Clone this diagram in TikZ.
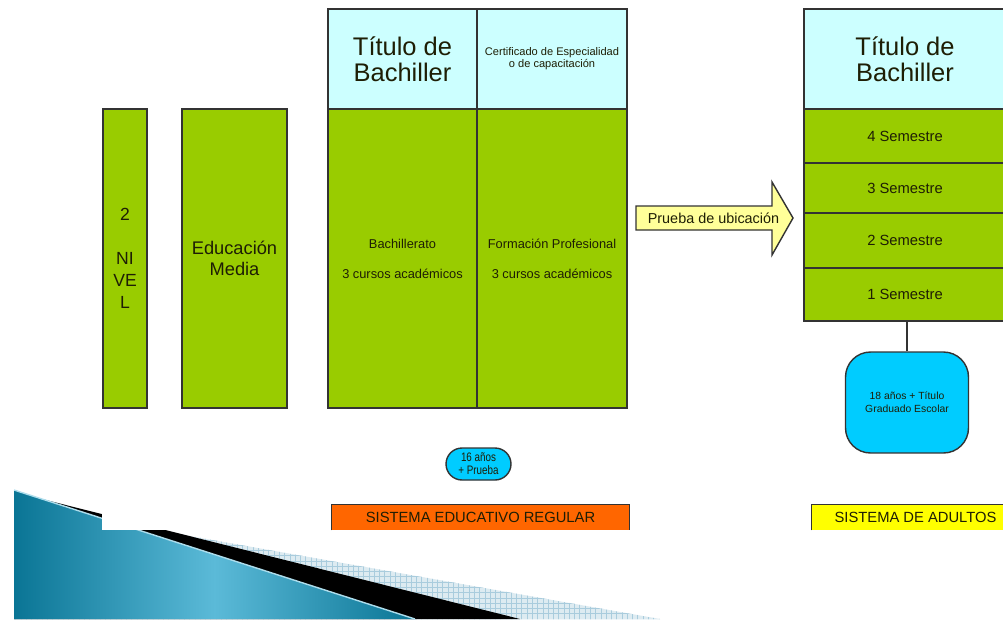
\documentclass[tikz,border=0pt]{standalone}
\usepackage{fontspec}
\setmainfont{Liberation Sans}
\newfontfamily\narrowfont{Liberation Sans}[FakeStretch=0.8]
\usetikzlibrary{arrows, arrows.meta}
\usetikzlibrary{calc}
\usetikzlibrary{patterns}
\usetikzlibrary{positioning}

\definecolor{levelgreen}{HTML}{99CC00}
\definecolor{titlecyan}{HTML}{CCFFFF}
\definecolor{agecyan}{HTML}{00CCFF}
\definecolor{regorange}{HTML}{FF6600}
\definecolor{adultyellow}{HTML}{FFFF00}
\definecolor{arrowyellow}{HTML}{FFFF99}
\definecolor{boxline}{HTML}{333333}
\definecolor{textdark}{HTML}{1E1E05}
\definecolor{tealdark}{HTML}{0A7595}
\definecolor{teallight}{HTML}{5BBAD8}
\definecolor{stripelight}{HTML}{DDEBF1}
\definecolor{gridblue}{HTML}{A9CCDD}

\tikzset{
  level/.style={draw=boxline, line width=0.8pt, fill=levelgreen, text=textdark, align=center, inner sep=0pt},
  titlebox/.style={draw=boxline, line width=0.8pt, fill=titlecyan, text=textdark, align=center, inner sep=0pt},
  agebox/.style={draw=boxline, line width=0.8pt, fill=agecyan, text=textdark, align=center, inner sep=1pt},
  band/.style={text=textdark, inner sep=0pt, font=\fontsize{8.4}{10}\selectfont},
  bandline/.style={draw=boxline, line width=0.8pt}
}

\begin{document}
\begin{tikzpicture}[x=0.02cm, y=-0.02cm]
      \useasboundingbox (0,0) rectangle (1003,619);
      \fill[white] (0,0) rectangle (1003,619);

      \fill[stripelight] (14,505) -- (660,619) -- (14,619) -- cycle;
      \fill[pattern=grid, pattern color=gridblue] (14,505) -- (660,619) -- (14,619) -- cycle;
      \fill[black] (14,492) -- (520,619) -- (14,619) -- cycle;
      \shade[left color=tealdark, right color=tealdark, middle color=teallight] (14,490) -- (415,619) -- (14,619) -- cycle;
      \draw[teallight!50!white, line width=0.8pt] (14,490) -- (415,619);
      \fill[white] (102,0) rectangle (1003,530);

      \node[level, minimum width=0.88cm, minimum height=5.98cm, font=\fontsize{10}{12.5}\selectfont] (nivel) at (125,258.5) {2\\[12.5pt]NI\\VE\\L};
      \node[level, minimum width=2.1cm, minimum height=5.98cm, font=\fontsize{10.4}{12}\selectfont] (media) at (234.5,258.5) {Educación\\Media};

      \node[titlebox, minimum width=2.98cm, minimum height=2cm, font=\fontsize{14.5}{14.7}\selectfont] (bachtit) at (402.5,59) {Título de\\Bachiller};
      \node[titlebox, minimum width=3cm, minimum height=2cm,
        label={[text=textdark, font=\fontsize{6.3}{6.5}\selectfont, align=center, anchor=north, inner sep=0pt, yshift=-0.78cm]north:Certificado de Especialidad\\o de capacitación}] (certif) at (552,59) {};
      \node[level, minimum width=2.98cm, minimum height=5.98cm, font=\fontsize{7.3}{8.5}\selectfont] (bach) at (402.5,258.5) {Bachillerato\\[8.5pt]3 cursos académicos};
      \node[level, minimum width=3cm, minimum height=5.98cm, font=\fontsize{7.3}{8.5}\selectfont] (fp) at (552,258.5) {Formación Profesional\\[8.5pt]3 cursos académicos};

      \node[agebox, minimum width=1.3cm, minimum height=0.64cm, rounded corners=0.32cm, font=\narrowfont\fontsize{7}{7.4}\selectfont] (prueba16) at (478.5,464) {16 años\\+ Prueba};

      \draw[boxline, fill=arrowyellow, line width=0.8pt] (636,206) -- (772,206) -- (772,182) -- (793,218) -- (772,255) -- (772,230) -- (636,230) -- cycle;
      \node[text=textdark, inner sep=0pt, font=\fontsize{8.2}{10}\selectfont] (ubicacion) at (713.5,218) {Prueba de ubicación};

      \node[titlebox, minimum width=4.04cm, minimum height=2cm, font=\fontsize{14.5}{14.7}\selectfont] (adtit) at (905,59) {Título de\\Bachiller};
      \node[level, minimum width=4.04cm, minimum height=1.08cm, font=\fontsize{8.4}{10}\selectfont] (sem4) at (905,136) {4 Semestre};
      \node[level, minimum width=4.04cm, minimum height=1.0cm, font=\fontsize{8.4}{10}\selectfont] (sem3) at (905,188) {3 Semestre};
      \node[level, minimum width=4.04cm, minimum height=1.1cm, font=\fontsize{8.4}{10}\selectfont] (sem2) at (905,240.5) {2 Semestre};
      \node[level, minimum width=4.04cm, minimum height=1.06cm, font=\fontsize{8.4}{10}\selectfont] (sem1) at (905,294.5) {1 Semestre};

      \node[agebox, minimum width=2.46cm, minimum height=2.02cm, rounded corners=0.5cm, font=\fontsize{5.9}{7.4}\selectfont] (graduado) at (907,402.5) {18 años + Título\\Graduado Escolar};
      \draw[boxline, line width=0.8pt] (graduado.north) -- (graduado.north |- sem1.south);

      \node[band, fill=regorange, minimum width=5.94cm, minimum height=0.5cm] (regular) at (480.5,517.5) {SISTEMA EDUCATIVO REGULAR};
      \draw[bandline] (regular.south west) |- (regular.north east) -- (regular.south east);
      \node[band, fill=adultyellow, minimum width=4.14cm, minimum height=0.5cm] (adultos) at (915.5,517.5) {SISTEMA DE ADULTOS};
      \draw[bandline] (adultos.south west) |- (adultos.north east);
    \end{tikzpicture}
\end{document}
